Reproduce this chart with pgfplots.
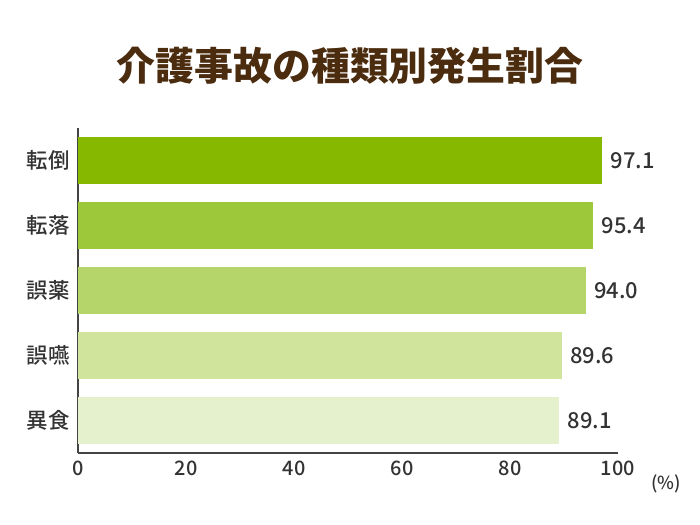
\documentclass[border=0pt]{standalone}
\usepackage{fontspec}
\setmainfont{Noto Sans CJK JP}
\newfontfamily\med{Noto Sans CJK JP Medium}
\newfontfamily\blk{Noto Sans CJK JP Black}
\usepackage{pgfplots}
\pgfplotsset{compat=1.18}

\definecolor{titlec}{HTML}{4B2C0F}
\definecolor{txt}{HTML}{333333}
\definecolor{axc}{HTML}{444444}
\definecolor{g1}{HTML}{86B800}
\definecolor{g2}{HTML}{9DC839}
\definecolor{g3}{HTML}{B5D56B}
\definecolor{g4}{HTML}{D1E49B}
\definecolor{g5}{HTML}{E5F0CC}

\begin{document}
\begin{tikzpicture}[x=1bp,y=1bp]
\path[use as bounding box, fill=white] (0,0) rectangle (700,525);
\node[font=\fontsize{39}{39}\selectfont\blk, text=titlec] at (350,459) {介護事故の種類別発生割合};
\node[font=\fontsize{18}{18}\selectfont\med, text=txt] at (666,41) {(\%)};

\begin{axis}[
    at={(78bp,72bp)}, anchor=south west,
    scale only axis, width=540bp, height=325bp,
    xmin=0, xmax=100, ymin=-0.5, ymax=4.5,
    xbar, bar width=0.71, bar shift=0pt,
    axis x line*=bottom, axis y line*=left,
    axis line style={draw=axc, line width=1.6pt},
    xtick={0,20,...,100},
    ytick={0,...,4},
    yticklabels={異食,誤嚥,誤薬,転落,転倒},
    major tick length=0pt,
    tick style={draw=none},
    /pgf/number format/assume math mode=true,
    ticklabel style={text=txt},
    xticklabel style={font=\fontsize{20}{20}\selectfont\med, yshift=-4bp},
    yticklabel style={font=\fontsize{21.5}{21.5}\selectfont\med, xshift=-5bp},
    nodes near coords={\pgfmathprintnumber[fixed,fixed zerofill,precision=1]{\pgfplotspointmeta}},
    every node near coord/.append style={anchor=west, text=txt,
        font=\fontsize{22}{22}\selectfont\med, xshift=5bp},
    clip=false,
]
\addplot[fill=g5, draw=none] coordinates {(89.1,0)};
\addplot[fill=g4, draw=none] coordinates {(89.6,1)};
\addplot[fill=g3, draw=none] coordinates {(94.0,2)};
\addplot[fill=g2, draw=none] coordinates {(95.4,3)};
\addplot[fill=g1, draw=none] coordinates {(97.1,4)};
\end{axis}
\end{tikzpicture}
\end{document}
